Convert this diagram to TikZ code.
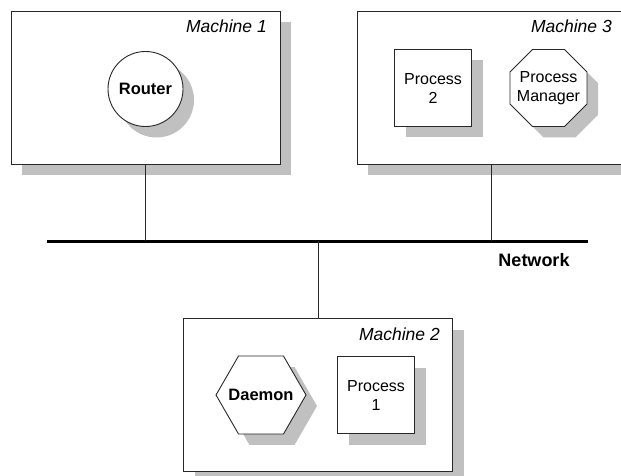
\documentclass[tikz,border=0pt]{standalone}
\usepackage{fontspec}
\setmainfont{Liberation Sans}
\usetikzlibrary{shadows}
\definecolor{shade}{RGB}{192,192,192}
\definecolor{edge}{RGB}{40,40,40}
\tikzset{
  txt/.style={font=\fontsize{16}{19}\selectfont, align=center},
  boldtxt/.style={txt, font=\fontsize{16.5}{19}\selectfont\bfseries},
  shaded/.style={draw=edge, line width=0.9pt, fill=white,
    drop shadow={shadow xshift=11pt, shadow yshift=-11pt, fill=shade, opacity=1}},
  machine/.style={shaded, rectangle, minimum width=269pt, minimum height=153pt, inner sep=0pt},
  procbox/.style={shaded, rectangle, minimum width=77pt, minimum height=77pt, inner sep=0pt, txt},
  label/.style={font=\fontsize{17.5}{19}\selectfont\itshape, anchor=base east, inner sep=0pt},
  link/.style={draw=edge, line width=0.9pt},
}
\begin{document}
\begin{tikzpicture}[x=1pt, y=-1pt]
  \useasboundingbox (0,0) rectangle (621,476);
  \clip (0,0) rectangle (621,476);

  % machine frames
  \node[machine] (m1) at (145.5,87.5) {};
  \node[machine] (m3) at (491.5,87.5) {};
  \node[machine] (m2) at (318,395) {};

  \node[label] (m1lbl) at (267,33) {Machine 1};
  \node[label] (m3lbl) at (612,33) {Machine 3};
  \node[label] (m2lbl) at (440,340) {Machine 2};

  % processes inside the machines
  \node[shaded, circle, minimum size=75pt, inner sep=0pt, boldtxt] (router) at (145.5,89) {Router};
  \node[procbox] (p2) at (433,88) {Process\\2};
  \node[procbox] (p1) at (376,395) {Process\\1};

  % octagon (flat-to-flat 77) and hexagon (corner radius 45)
  \path[shaded, shift={(548.5,88)}]
    (22.5:41.67pt) -- (67.5:41.67pt) -- (112.5:41.67pt) -- (157.5:41.67pt)
    -- (202.5:41.67pt) -- (247.5:41.67pt) -- (292.5:41.67pt) -- (337.5:41.67pt) -- cycle;
  \node[txt] (pm) at (548.5,88) {Process\\Manager};
  \path[shaded, shift={(261,395)}]
    (0:45pt) -- (60:45pt) -- (120:45pt) -- (180:45pt) -- (240:45pt) -- (300:45pt) -- cycle;
  \node[boldtxt] (daemon) at (261,395) {Daemon};

  % network bus
  \coordinate (netL) at (47,241);
  \coordinate (netR) at (588,241);
  \draw[line width=3pt, line cap=butt] (netL) -- (netR);
  \node[font=\fontsize{18}{19}\selectfont\bfseries] (netlbl) at (534,260) {Network};

  % drops from each machine to the bus
  \draw[link] (m1.south) -- (m1.south |- netL);
  \draw[link] (m3.south) -- (m3.south |- netL);
  \draw[link] (m2.north) -- (m2.north |- netL);
\end{tikzpicture}
\end{document}
